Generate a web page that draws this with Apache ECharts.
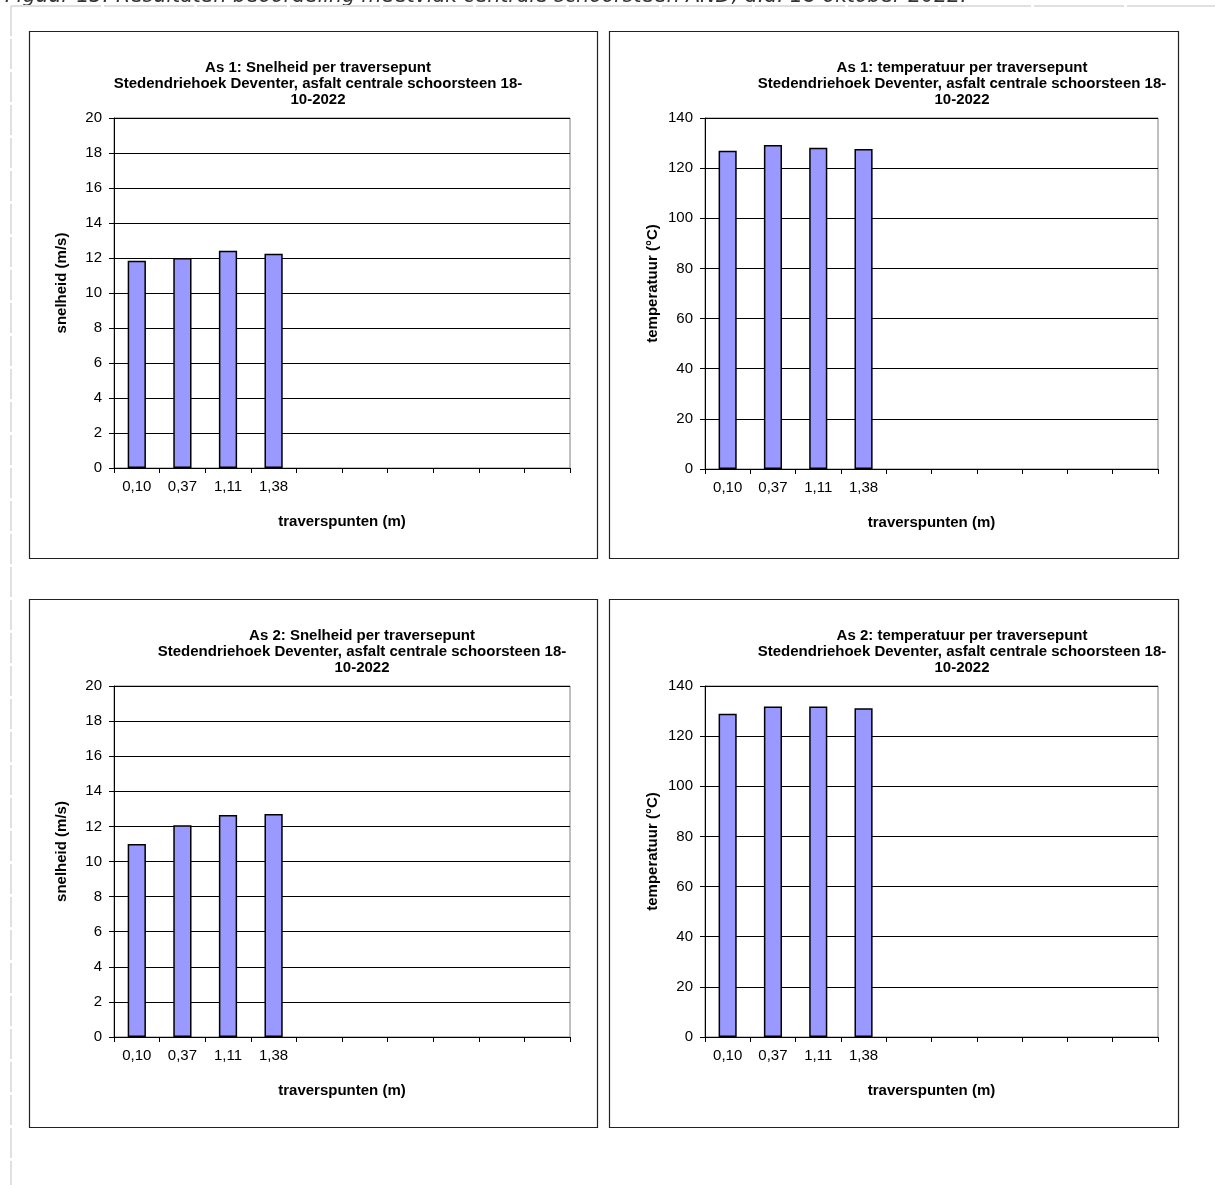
<!DOCTYPE html>
<html>
<head>
<meta charset="utf-8">
<script src="https://cdn.jsdelivr.net/npm/echarts@6/dist/echarts.min.js"></script>
<style>
html,body{margin:0;padding:0;background:#fff;}
#c{width:1215px;height:1185px;}
</style>
</head>
<body>
<div id="c"></div>
<script>
// ---- data ----
const pointLabels = ['0,10', '0,37', '1,11', '1,38'];
const slotCount = 10;
const as1Snelheid = [11.85, 12.0, 12.42, 12.25];
const as1Temperatuur = [126.9, 129.2, 128.1, 127.6];
const as2Snelheid = [11.0, 12.07, 12.65, 12.7];
const as2Temperatuur = [128.9, 131.8, 131.8, 131.1];
const titles = [
  'As 1: Snelheid per traversepunt\nStedendriehoek Deventer, asfalt centrale schoorsteen 18-\n10-2022',
  'As 1: temperatuur per traversepunt\nStedendriehoek Deventer, asfalt centrale schoorsteen 18-\n10-2022',
  'As 2: Snelheid per traversepunt\nStedendriehoek Deventer, asfalt centrale schoorsteen 18-\n10-2022',
  'As 2: temperatuur per traversepunt\nStedendriehoek Deventer, asfalt centrale schoorsteen 18-\n10-2022'
];
const yNames = ['snelheid (m/s)', 'temperatuur (°C)', 'snelheid (m/s)', 'temperatuur (°C)'];
const xName = 'traverspunten (m)';
const yMax = [20, 140, 20, 140];
const yStep = [2, 20, 2, 20];
const seriesValues = [as1Snelheid, as1Temperatuur, as2Snelheid, as2Temperatuur];
const headerText = 'Figuur 13: Resultaten beoordeling meetvlak centrale schoorsteen AND, d.d. 18 oktober 2022.';

// ---- layout ----
const boxes = [
  {x: 29, y: 31, w: 568, h: 527},
  {x: 609, y: 31, w: 569, h: 527},
  {x: 29, y: 599, w: 568, h: 528},
  {x: 609, y: 599, w: 569, h: 528}
];
const grids = [
  {left: 114, top: 118, width: 456, height: 350},
  {left: 705, top: 118, width: 453, height: 351},
  {left: 114, top: 686, width: 456, height: 351},
  {left: 705, top: 686, width: 453, height: 351}
];
const titlePos = [
  {x: 318, y: 60}, {x: 962, y: 60}, {x: 362, y: 628}, {x: 962, y: 628}
];

const font = 'Liberation Sans, Arial, sans-serif';
const categories = [];
for (let i = 0; i < slotCount; i++) categories.push(pointLabels[i] !== undefined ? pointLabels[i] : '\u200b'.repeat(i + 1));

const chart = echarts.init(document.getElementById('c'), null, {renderer: 'canvas'});
const option = {
  animation: false,
  backgroundColor: '#fff',
  grid: grids.map(g => Object.assign({show: true, borderColor: '#808080', borderWidth: 1, backgroundColor: 'transparent'}, g)),
  xAxis: grids.map((g, i) => ({
    type: 'category',
    gridIndex: i,
    data: categories,
    boundaryGap: true,
    name: xName,
    nameLocation: 'middle',
    nameGap: 46,
    nameTextStyle: {fontFamily: font, fontSize: 15, fontWeight: 'bold', color: '#000'},
    axisLine: {lineStyle: {color: '#000', width: 1}},
    axisTick: {show: true, alignWithLabel: false, length: 5, lineStyle: {color: '#000'}},
    axisLabel: {interval: 0, margin: 11, fontFamily: font, fontSize: 15, color: '#000'},
    splitLine: {show: false}
  })),
  yAxis: grids.map((g, i) => ({
    type: 'value',
    gridIndex: i,
    min: 0,
    max: yMax[i],
    interval: yStep[i],
    name: yNames[i],
    nameLocation: 'middle',
    nameGap: 45,
    nameRotate: 90,
    nameTextStyle: {fontFamily: font, fontSize: 15, fontWeight: 'bold', color: '#000', padding: [0, 0, 0, 20]},
    axisLine: {show: true, lineStyle: {color: '#000', width: 1}},
    axisTick: {show: true, length: 5, lineStyle: {color: '#000'}},
    axisLabel: {margin: 12, fontFamily: font, fontSize: 15, color: '#000'},
    splitLine: {show: true, lineStyle: {color: '#000', width: 1}}
  })),
  series: seriesValues.map((vals, i) => ({
    type: 'bar',
    xAxisIndex: i,
    yAxisIndex: i,
    data: vals,
    barWidth: '40%',
    itemStyle: {color: '#9999FF', borderColor: '#000', borderWidth: 1.5}
  })),
  graphic: []
};

// page decoration: header text (cut off) and dashed table borders
option.graphic.push({
  type: 'text', left: 5, top: -13, z: 0,
  style: {text: headerText, font: 'italic 20.5px "DejaVu Sans", Verdana, sans-serif', fill: '#333'}
});
option.graphic.push({
  type: 'line', z: 0,
  shape: {x1: 11, y1: 6, x2: 1215, y2: 6},
  style: {stroke: '#e0e0e0', lineWidth: 2, lineDash: [90, 3]}
});
option.graphic.push({
  type: 'line', z: 0,
  shape: {x1: 11, y1: 6, x2: 11, y2: 1185},
  style: {stroke: '#e0e0e0', lineWidth: 2, lineDash: [30, 3]}
});

boxes.forEach((b, i) => {
  option.graphic.push({
    type: 'rect', z: -1, silent: true,
    shape: {x: b.x + 0.5, y: b.y + 0.5, width: b.w, height: b.h},
    style: {fill: 'transparent', stroke: '#222', lineWidth: 1.2}
  });
  option.graphic.push({
    type: 'text', silent: true,
    x: titlePos[i].x, y: titlePos[i].y,
    style: {
      text: titles[i], textAlign: 'center', textVerticalAlign: 'top',
      fontFamily: font, fontSize: 15, fontWeight: 'bold', lineHeight: 16, fill: '#000'
    }
  });
});

chart.setOption(option);
</script>
</body>
</html>
